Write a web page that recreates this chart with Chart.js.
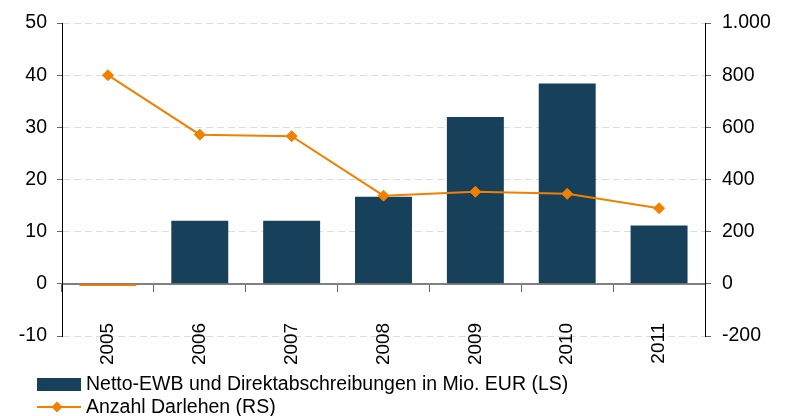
<!DOCTYPE html>
<html>
<head>
<meta charset="utf-8">
<script src="https://cdn.jsdelivr.net/npm/chart.js@4.4.1/dist/chart.umd.min.js"></script>
<style>
  html, body { margin: 0; padding: 0; background: #fff; }
  #wrap { width: 787px; height: 416px; }
</style>
</head>
<body>
<div id="wrap"><canvas id="chart" width="787" height="416"></canvas></div>
<script>
// data
var years = ['2005', '2006', '2007', '2008', '2009', '2010', '2011'];
var abschreibungen = [-0.4, 12.1, 12.1, 16.7, 32.0, 38.4, 11.2];   // Mio. EUR, left scale
var darlehen = [800, 572, 566, 338, 353, 345, 290];              // count, right scale
var leftTicks = [-10, 0, 10, 20, 30, 40, 50];
var rightTicks = [-200, 0, 200, 400, 600, 800, 1000];

var barLabel = 'Netto-EWB und Direktabschreibungen in Mio. EUR (LS)';
var lineLabel = 'Anzahl Darlehen (RS)';

var navy = '#17405b';
var orange = '#f28000';
var fontFamily = '"Liberation Sans", Arial, sans-serif';

function deNumber(v) {
    var s = String(Math.abs(v)).replace(/\B(?=(\d{3})+(?!\d))/g, '.');
    return (v < 0 ? '-' : '') + s;
}

// legend drawn below the plot, two rows, left aligned
var bottomLegend = {
    id: 'bottomLegend',
    afterDraw: function(chart) {
        var ctx = chart.ctx;
        ctx.save();
        ctx.font = '19.5px ' + fontFamily;
        ctx.textBaseline = 'middle';
        ctx.textAlign = 'left';

        // bar item
        ctx.fillStyle = navy;
        ctx.fillRect(37, 378, 44, 13);
        ctx.fillStyle = '#000';
        ctx.fillText(chart.data.datasets[1].label, 86, 384.5);

        // line item
        ctx.strokeStyle = orange;
        ctx.lineWidth = 2;
        ctx.beginPath();
        ctx.moveTo(37, 407);
        ctx.lineTo(81, 407);
        ctx.stroke();
        ctx.fillStyle = orange;
        ctx.beginPath();
        ctx.moveTo(57, 401.5);
        ctx.lineTo(62.5, 407);
        ctx.lineTo(57, 412.5);
        ctx.lineTo(51.5, 407);
        ctx.closePath();
        ctx.fill();
        ctx.fillStyle = '#000';
        ctx.fillText(chart.data.datasets[0].label, 86, 407.5);
        ctx.restore();
    }
};

var ctx = document.getElementById('chart').getContext('2d');
var chart = new Chart(ctx, {
    type: 'bar',
    data: {
        labels: years,
        datasets: [{
            type: 'line',
            label: lineLabel,
            data: darlehen,
            yAxisID: 'y1',
            order: 0,
            borderColor: orange,
            backgroundColor: orange,
            borderWidth: 2,
            pointStyle: 'rectRot',
            pointRadius: 5.5,
            pointBorderWidth: 1,
            pointBackgroundColor: orange,
            pointBorderColor: orange,
            tension: 0,
            fill: false
        }, {
            type: 'bar',
            label: barLabel,
            data: abschreibungen,
            yAxisID: 'y',
            order: 1,
            backgroundColor: function(c) {
                return c.raw < 0 ? orange : navy;
            },
            borderWidth: 0,
            barPercentage: 0.62,
            categoryPercentage: 1.0
        }]
    },
    options: {
        responsive: false,
        animation: false,
        layout: {
            padding: { top: 23, bottom: 80, left: 0, right: 0 }
        },
        plugins: {
            legend: { display: false },
            tooltip: { enabled: false }
        },
        scales: {
            x: {
                position: { y: 0 },
                offset: true,
                grid: {
                    offset: true,
                    drawOnChartArea: false,
                    drawTicks: true,
                    tickLength: 7,
                    tickColor: '#666',
                    tickWidth: 1
                },
                border: { display: true, color: '#808080', width: 2 },
                ticks: {
                    color: '#000',
                    font: { family: fontFamily, size: 19 },
                    minRotation: 90,
                    maxRotation: 90,
                    padding: 32
                }
            },
            y: {
                position: 'left',
                min: leftTicks[0],
                max: leftTicks[leftTicks.length - 1],
                afterBuildTicks: function(scale) {
                    scale.ticks = leftTicks.map(function(v) { return { value: v }; });
                },
                afterFit: function(scale) { scale.width = 62; },
                grid: {
                    color: '#dcdcdc',
                    lineWidth: 1,
                    drawTicks: true,
                    tickLength: 5,
                    tickColor: '#666'
                },
                border: { display: true, color: '#000', width: 1, dash: [7, 4] },
                ticks: {
                    color: '#000',
                    font: { family: fontFamily, size: 19.5 },
                    padding: 10,
                    callback: function(v) { return deNumber(v); }
                }
            },
            y1: {
                position: 'right',
                min: rightTicks[0],
                max: rightTicks[rightTicks.length - 1],
                afterBuildTicks: function(scale) {
                    scale.ticks = rightTicks.map(function(v) { return { value: v }; });
                },
                afterFit: function(scale) { scale.width = 82; },
                grid: {
                    drawOnChartArea: false,
                    drawTicks: true,
                    tickLength: 6,
                    tickColor: '#666'
                },
                border: { display: true, color: '#000', width: 1 },
                ticks: {
                    color: '#000',
                    font: { family: fontFamily, size: 19.5 },
                    padding: 11,
                    callback: function(v) { return deNumber(v); }
                }
            }
        }
    },
    plugins: [bottomLegend]
});
</script>
</body>
</html>
